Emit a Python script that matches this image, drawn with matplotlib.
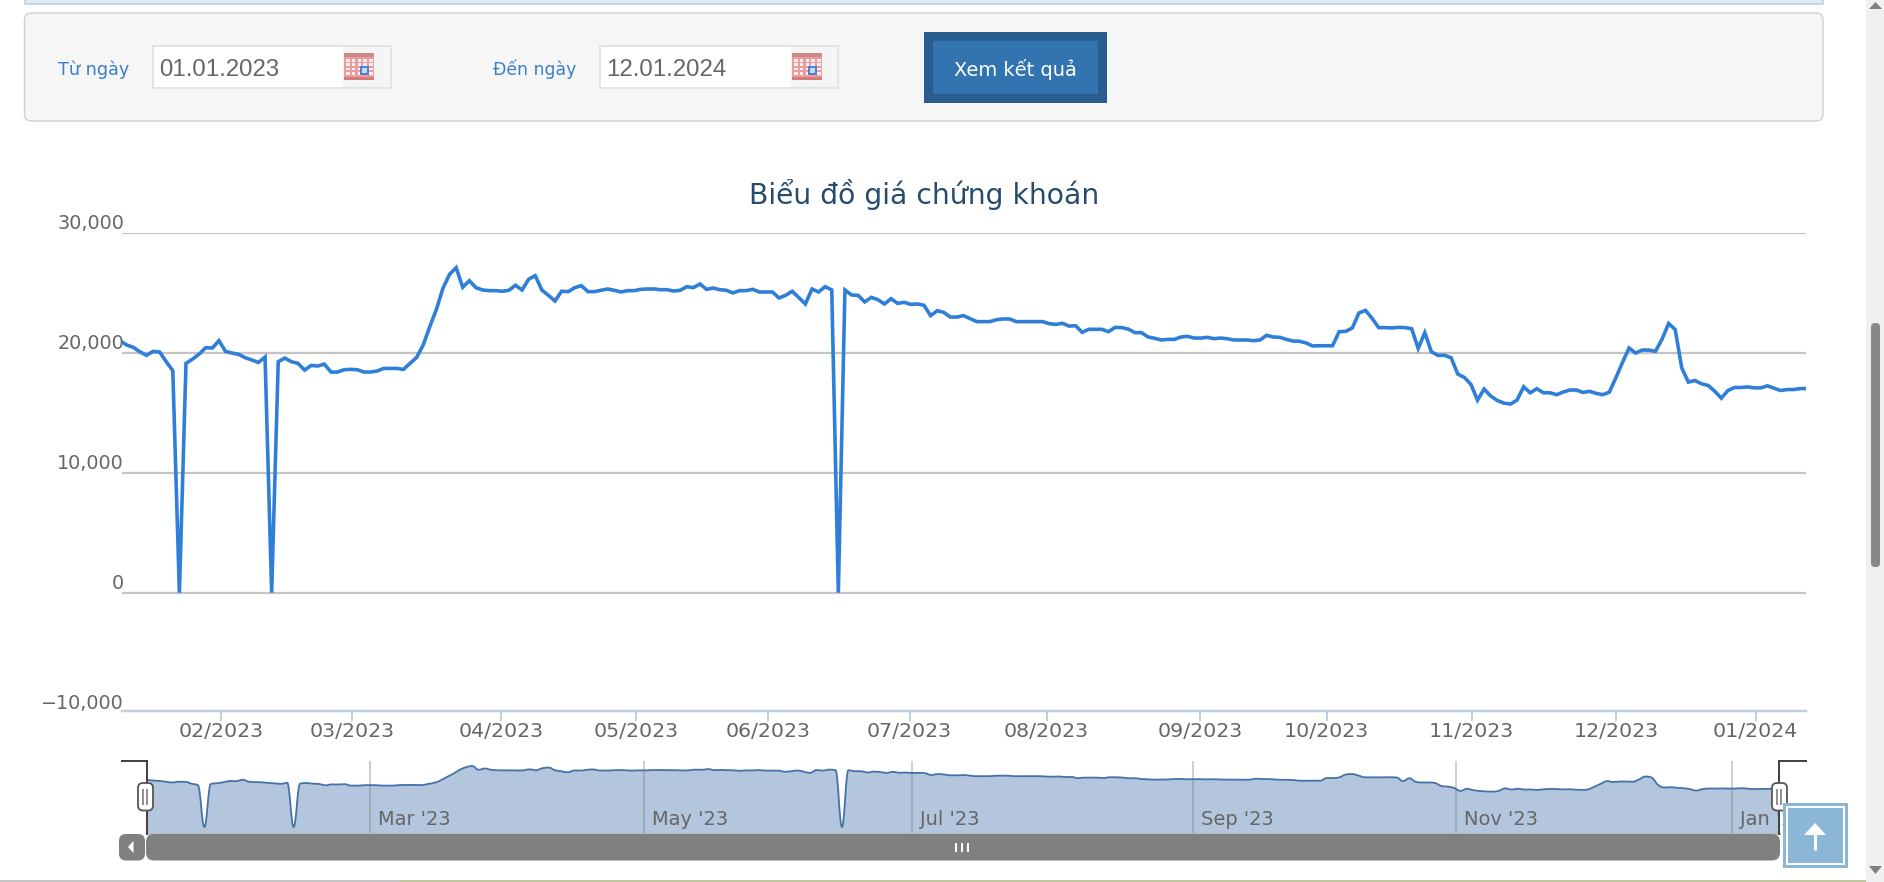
#!/usr/bin/env python
"""Stock price page screenshot: date form, price line, navigator strip."""
import matplotlib
matplotlib.use("Agg")
import matplotlib.pyplot as plt
from matplotlib.patches import FancyBboxPatch, PathPatch, Polygon, Rectangle
from matplotlib.path import Path

W, H = 1884, 882

# one value per trading session, 03.01.2023 -> 12.01.2024
PRICE = [
    21000, 20640, 20450, 20080, 19780, 20110, 20060, 19250, 18500, 0,
    19110, 19470, 19890, 20420, 20390, 21000, 20110, 19970, 19860, 19580,
    19390, 19190, 19640, 0, 19250, 19550, 19250, 19110, 18550, 18940,
    18890, 19050, 18390, 18390, 18580, 18610, 18580, 18390, 18390, 18470,
    18690, 18690, 18690, 18610, 19110, 19610, 20640, 22170, 23610, 25370,
    26530, 27090, 25450, 26000, 25420, 25230, 25170, 25170, 25120, 25200,
    25620, 25230, 26120, 26420, 25230, 24780, 24310, 25120, 25090, 25420,
    25590, 25090, 25090, 25200, 25310, 25200, 25060, 25170, 25170, 25280,
    25310, 25310, 25250, 25250, 25140, 25200, 25500, 25420, 25730, 25280,
    25390, 25250, 25200, 24980, 25170, 25170, 25280, 25060, 25060, 25060,
    24560, 24780, 25120, 24590, 24060, 25310, 25060, 25500, 25230, 0,
    25230, 24810, 24780, 24230, 24610, 24420, 24060, 24500, 24110, 24200,
    24030, 24060, 23950, 23090, 23500, 23360, 22970, 22970, 23090, 22840,
    22590, 22590, 22590, 22750, 22810, 22810, 22590, 22590, 22590, 22590,
    22590, 22420, 22360, 22450, 22220, 22250, 21700, 21950, 21950, 21950,
    21750, 22110, 22090, 21970, 21670, 21670, 21310, 21200, 21060, 21110,
    21110, 21310, 21360, 21220, 21220, 21280, 21170, 21220, 21170, 21060,
    21060, 21060, 21000, 21060, 21450, 21310, 21280, 21110, 20970, 20950,
    20810, 20560, 20580, 20580, 20580, 21750, 21780, 22060, 23310, 23530,
    22860, 22090, 22090, 22060, 22110, 22090, 22000, 20360, 21670, 20080,
    19780, 19780, 19580, 18220, 17940, 17360, 16050, 16970, 16390, 16020,
    15800, 15720, 16050, 17160, 16660, 17000, 16660, 16660, 16500, 16720,
    16890, 16890, 16690, 16780, 16610, 16500, 16710, 17910, 19190, 20390,
    19970, 20220, 20220, 20110, 21120, 22430, 21930, 18720, 17550, 17680,
    17410, 17270, 16790, 16210, 16850, 17100, 17100, 17150, 17070, 17070,
    17240, 17040, 16850, 16930, 16930, 17010, 17010,
]
Y_TICKS = [-10000, 0, 10000, 20000, 30000]
Y_LABELS = ["\u221210,000", "0", "10,000", "20,000", "30,000"]
MONTH_POS = [15.3, 35.2, 57.8, 78.3, 98.3, 119.8, 140.6, 163.9, 183.1, 205.1, 227, 248.2]
MONTH_LABELS = ["02/2023", "03/2023", "04/2023", "05/2023", "06/2023", "07/2023",
                "08/2023", "09/2023", "10/2023", "11/2023", "12/2023", "01/2024"]
NAV_POS = [35, 78, 120, 164, 205.3, 248.6]
NAV_LABELS = ["Mar '23", "May '23", "Jul '23", "Sep '23", "Nov '23", "Jan '24"]
DATE_FROM = "01.01.2023"
DATE_TO = "12.01.2024"

BLUE = "#2f7ed8"
GREY_TXT = "#666666"
SANS = "DejaVu Sans"
ARIAL = "Liberation Sans"


def pt(px):
    return px * 0.72


def axes_px(x0, y0, x1, y1, z):
    """Axes placed by its pixel box (y counted from the top)."""
    return fig.add_axes([x0 / W, 1 - y1 / H, (x1 - x0) / W, (y1 - y0) / H], zorder=z)


def rrect(a, x0, y0, x1, y1, r, fc, ec="none", lw=0, z=2):
    a.add_patch(FancyBboxPatch((x0, y0), x1 - x0, y1 - y0, boxstyle=f"round,pad=0,rounding_size={r}",
                               fc=fc, ec=ec, lw=pt(lw), zorder=z))


def rect(a, x0, y0, x1, y1, fc, ec="none", lw=0, z=2):
    a.add_patch(Rectangle((x0, y0), x1 - x0, y1 - y0, fc=fc, ec=ec, lw=pt(lw), zorder=z))


def calendar(a, x, y):
    rect(a, x, y, x + 30, y + 27, "#f09c9c", z=3)
    rect(a, x, y + 24, x + 30, y + 27, "#d67c7c", z=3)
    rect(a, x, y, x + 30, y + 4, "#c88a8a", z=3)
    for i in range(5):
        for j in range(4):
            rect(a, x + 2 + i * 5.8, y + 6 + j * 4.3, x + 5.5 + i * 5.8, y + 8.8 + j * 4.3, "#fff2f2", z=4)
    rect(a, x + 17, y + 14, x + 24, y + 21, "#c8d8f8", ec="#4a80e0", lw=2, z=5)


def date_box(a, x0, text, icon_x):
    rect(a, x0, 46, x0 + 238, 88, "#ffffff", ec="#dcdcdc", lw=1.5)
    rect(a, icon_x - 1, 47, x0 + 237, 87, "#f5f5f5", z=2.5)
    calendar(a, icon_x, 53)
    a.text(x0 + 6, 69.5, text, fontsize=pt(24), color=GREY_TXT, family=ARIAL, va="center", ha="left")


def spline_verts(xs, ys):
    """Bezier segments like a Highcharts spline series, with its overshoot guard."""
    n = len(xs)
    verts = [(xs[0], ys[0])]
    codes = [Path.MOVETO]
    ctrl = []
    for i in range(n):
        px_, py_ = xs[max(i - 1, 0)], ys[max(i - 1, 0)]
        nx_, ny_ = xs[min(i + 1, n - 1)], ys[min(i + 1, n - 1)]
        y = ys[i]
        lx, ly = (1.5 * xs[i] + px_) / 2.5, (1.5 * y + py_) / 2.5
        rx, ry = (1.5 * xs[i] + nx_) / 2.5, (1.5 * y + ny_) / 2.5
        if rx != lx and 0 < i < n - 1:
            corr = (ry - ly) * (rx - xs[i]) / (rx - lx) + y - ry
            ly += corr
            ry += corr
            if ly > max(py_, y) or ly < min(py_, y):
                ly = max(py_, y) if ly > y else min(py_, y)
                ry = 2 * y - ly
            if ry > max(ny_, y) or ry < min(ny_, y):
                ry = max(ny_, y) if ry > y else min(ny_, y)
                ly = 2 * y - ry
        ctrl.append(((lx, ly), (rx, ry)))
    for i in range(1, n):
        verts += [ctrl[i - 1][1], ctrl[i][0], (xs[i], ys[i])]
        codes += [Path.CURVE4] * 3
    return verts, codes


fig = plt.figure(figsize=(W / 100, H / 100), dpi=100, facecolor="white")

# --- page furniture behind the chart ---
bg = axes_px(0, 0, W, H, 0)
bg.set_xlim(0, W); bg.set_ylim(H, 0); bg.axis("off")
rect(bg, 24.5, -4, 1823, 3.5, "#e0ebf3", ec="#b9ccd8", lw=1.5)
rrect(bg, 24.5, 13, 1823, 121, 7, "#f6f6f6", ec="#d2d2d2", lw=1.5)
bg.text(57.5, 69.5, "T\u1eeb ng\u00e0y", fontsize=pt(17.6), color="#3a7fc8", family=SANS, va="center", ha="left")
bg.text(493, 69, "\u0110\u1ebfn ng\u00e0y", fontsize=pt(17.2), color="#3a7fc8", family=SANS, va="center", ha="left")
date_box(bg, 153, DATE_FROM, 344)
date_box(bg, 600, DATE_TO, 792)
rect(bg, 924, 32, 1107, 103, "#2a5d8f")
rect(bg, 933, 41, 1098, 94, "#3174b0", z=3)
bg.text(1015, 69, "Xem k\u1ebft qu\u1ea3", fontsize=pt(19.4), color="white", family=SANS, ha="center", va="center", zorder=4)
bg.text(924, 195, "Bi\u1ec3u \u0111\u1ed3 gi\u00e1 ch\u1ee9ng kho\u00e1n", fontsize=pt(28.2), color="#274b6d",
        family=SANS, ha="center", va="center")

# --- main price chart ---
ax = axes_px(122, 232.7, 1806, 712.7, 2)
ax.patch.set_alpha(0)
# bottom line sits a little above -10,000 on the page; set_position resets ticks, so do it first
ax.spines["bottom"].set_position(("data", -9860))
ax.plot(range(len(PRICE)), PRICE, color=BLUE, lw=pt(3.6), solid_joinstyle="miter", zorder=3)
ax.set_xlim(0.29, 255.85)
ax.set_ylim(-10000, 30000)
ax.set_yticks(Y_TICKS)
ax.set_yticklabels(Y_LABELS, fontsize=pt(19.2), color=GREY_TXT, va="bottom", family=SANS)
ax.set_xticks(MONTH_POS)
ax.set_xticklabels(MONTH_LABELS, fontsize=pt(20.5), color=GREY_TXT, family=SANS)
ax.tick_params(axis="y", length=0, pad=pt(-2))
ax.tick_params(axis="x", length=pt(10), width=pt(2), color="#c0d0e0", pad=pt(1))
ax.grid(True, axis="y", color="#c4c4c4", lw=pt(2.2))
ax.get_ygridlines()[0].set_visible(False)
ax.set_axisbelow(True)
for s in ("top", "left", "right"):
    ax.spines[s].set_visible(False)
ax.spines["bottom"].set_color("#c0d0e0")
ax.spines["bottom"].set_linewidth(pt(2.5))

# --- navigator strip (x is the same session number) ---
nav = axes_px(122, 761, 1806, 834, 3)
nav.patch.set_alpha(0)
nav.set_xlim(-3.92, 260.2)
nav.set_ylim(-3111, 29333)
nav.axis("off")
idx = list(range(len(PRICE)))
verts, codes = spline_verts(idx, PRICE)
area = verts + [(idx[-1], -3111), (idx[0], -3111), (idx[0], -3111)]
area_codes = codes + [Path.LINETO, Path.LINETO, Path.CLOSEPOLY]
nav.add_patch(PathPatch(Path(area, area_codes), fc="#b4c6dd", ec="none", zorder=1))
nav.add_patch(PathPatch(Path(verts, codes), fc="none", ec="#4572a7", lw=pt(1.8), zorder=3))
nav.vlines(NAV_POS, -3111, 29333, color="#808080", alpha=0.5, lw=pt(1.5), zorder=2)
for p, lab in zip(NAV_POS, NAV_LABELS):
    nav.annotate(lab, (p, 0), xytext=(pt(8), pt(8)), textcoords="offset points", fontsize=pt(19.4),
                 color=GREY_TXT, family=SANS, va="center", ha="left", zorder=2)

# --- scrollbar, handles and page controls on top ---
fg = axes_px(0, 0, W, H, 5)
fg.patch.set_alpha(0)
fg.set_xlim(0, W); fg.set_ylim(H, 0); fg.axis("off")
rect(fg, 146, 833, 1781, 835, "#b8b8b8")
rrect(fg, 119, 834, 145, 860.5, 7, "#808080", z=3)
rrect(fg, 146, 834, 1780, 860.5, 8, "#808080", z=3)
fg.add_patch(Polygon([(133.5, 841), (133.5, 853), (128, 847)], fc="white", zorder=4))
fg.vlines([956, 962, 968], 843, 852, color="white", lw=pt(2), zorder=4)
fg.plot([122, 147, 147], [761, 761, 834], color="#444444", lw=pt(2), solid_joinstyle="miter", zorder=3)
fg.plot([1806, 1779, 1779], [761, 761, 834], color="#444444", lw=pt(2), solid_joinstyle="miter", zorder=3)
for cx in (145.5, 1779.5):
    rrect(fg, cx - 7.5, 783, cx + 7.5, 810.5, 5, "white", ec="#555555", lw=1.8, z=4)
    fg.vlines([cx - 2.5, cx + 1.5], 789, 805, color="#777777", lw=pt(1.6), zorder=5)

rect(fg, 1782.5, 803, 1848, 868, "#8bb6d6", z=6)
rect(fg, 1787, 807, 1844, 864, "#8bb6d6", ec="white", lw=2, z=6)
fg.vlines(1815, 826, 850, color="white", lw=pt(3), zorder=7)
fg.add_patch(Polygon([(1804, 835), (1815, 823), (1826, 835)], fc="white", zorder=7))

rect(fg, 1866, 0, W, H, "#f0f0f0", z=3)
rrect(fg, 1871, 323, 1880, 567, 4, "#888888", z=4)
fg.add_patch(Polygon([(1869, 9), (1875.5, 2), (1882, 9)], fc="#808080", zorder=4))
fg.add_patch(Polygon([(1869, 866), (1875.5, 874), (1882, 866)], fc="#808080", zorder=4))
rect(fg, 0, 879.5, 400, H, "#c4c4c4", z=4)
rect(fg, 400, 879.5, 1866, H, "#c2c6a0", z=4)

fig.savefig("out.png", dpi=100)
print("wrote out.png")
